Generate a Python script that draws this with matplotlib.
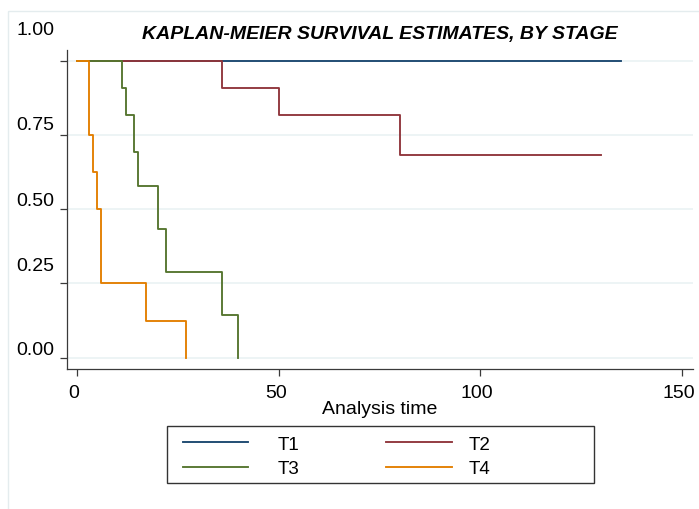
import matplotlib
matplotlib.use('Agg')
import matplotlib.pyplot as plt
from matplotlib.patches import Rectangle
from matplotlib.transforms import ScaledTranslation

plt.rcParams['font.family'] = ['Liberation Sans', 'DejaVu Sans']

# Kaplan-Meier step data by stage
t1_time = [0, 135]
t1_surv = [1.0, 1.0]

t2_time = [0, 36, 50, 80, 130]
t2_surv = [1.0, 0.909, 0.818, 0.682, 0.682]

t3_time = [0, 11, 12, 14, 15, 20, 22, 36, 40]
t3_surv = [1.0, 0.909, 0.818, 0.693, 0.577, 0.433, 0.289, 0.144, 0.0]

t4_time = [0, 3, 4, 5, 6, 17, 27]
t4_surv = [1.0, 0.75, 0.625, 0.5, 0.25, 0.125, 0.0]

yticks = [0.0, 0.25, 0.5, 0.75, 1.0]
ytick_labels = ['0.00', '0.25', '0.50', '0.75', '1.00']
# the reference draws the y labels a bit above their ticks (pixels)
ylabel_shift = [8, 18.3, 8.4, 10.3, 30.9]
xticks = [0, 50, 100, 150]

navy = '#1A476F'
maroon = '#90353B'
green = '#55752F'
orange = '#E37E00'
grid_clr = '#EAF2F3'
axis_clr = '#3a3a3a'

fs = 14
leg_fs = 13.5

fig = plt.figure(figsize=(6.99, 5.10), dpi=100)
W, H = 699, 510

# faint outer graph region border
fig.patches.append(Rectangle((8 / W, 1 - 12 / H), 1, -1, transform=fig.transFigure,
                             fill=False, edgecolor='#E4ECEE', lw=1.0))

ax = fig.add_axes([66.7 / W, 1 - 370 / H, (693.3 - 66.7) / W, (370 - 51) / H])

lw = 1.35
l1, = ax.step(t1_time, t1_surv, where='post', color=navy, lw=lw, label='T1')
l2, = ax.step(t2_time, t2_surv, where='post', color=maroon, lw=lw, label='T2')
l3, = ax.step(t3_time, t3_surv, where='post', color=green, lw=lw, label='T3')
l4, = ax.step(t4_time, t4_surv, where='post', color=orange, lw=lw, label='T4')

ax.set_xlim(-2.6, 152.9)
ax.set_ylim(-0.038, 1.036)

for v in yticks:
    ax.axhline(v, color=grid_clr, lw=1.2, zorder=0)

for s in ['top', 'right']:
    ax.spines[s].set_visible(False)
for s in ['left', 'bottom']:
    ax.spines[s].set_color(axis_clr)
    ax.spines[s].set_linewidth(0.9)

ax.set_yticks(yticks)
ax.set_yticklabels([''] * len(yticks))
for v, lab, dy in zip(yticks, ytick_labels, ylabel_shift):
    ax.annotate(lab, xy=(0, v), xycoords=('axes fraction', 'data'),
                xytext=(-12.7, dy), textcoords='offset pixels',
                ha='right', va='center', fontsize=fs, color='black')

ax.set_xticks(xticks)
ax.set_xticklabels([str(x) for x in xticks], fontsize=fs)
ax.tick_params(axis='both', direction='out', length=5, width=0.9, color=axis_clr)
ax.tick_params(axis='x', pad=6.0)
shift = ScaledTranslation(-3 / 100, 0, fig.dpi_scale_trans)
for lbl in ax.get_xticklabels():
    lbl.set_transform(lbl.get_transform() + shift)

ax.set_xlabel('Analysis time', fontsize=fs, labelpad=-1)
ax.set_title('KAPLAN-MEIER SURVIVAL ESTIMATES, BY STAGE', fontsize=fs,
             fontweight='bold', fontstyle='italic', pad=9)

# legend: two columns, each its own legend (text gap differs per column)
leg_kw = dict(loc='center left', frameon=False, fontsize=leg_fs,
              handlelength=65.7 / (leg_fs * 100 / 72), labelspacing=0.4,
              borderpad=0, borderaxespad=0)
leg1 = fig.legend([l1, l3], ['T1', 'T3'], bbox_to_anchor=(182.7 / W, 1 - 457.5 / H),
                  handletextpad=29.5 / (leg_fs * 100 / 72), **leg_kw)
leg2 = fig.legend([l2, l4], ['T2', 'T4'], bbox_to_anchor=(386 / W, 1 - 457.5 / H),
                  handletextpad=16.6 / (leg_fs * 100 / 72), **leg_kw)
fig.patches.append(Rectangle((166.7 / W, 1 - 484.3 / H), (594.3 - 166.7) / W,
                             (484.3 - 426.7) / H, transform=fig.transFigure,
                             fill=False, edgecolor='#333333', lw=1.0))

fig.savefig('out.png', dpi=100)
